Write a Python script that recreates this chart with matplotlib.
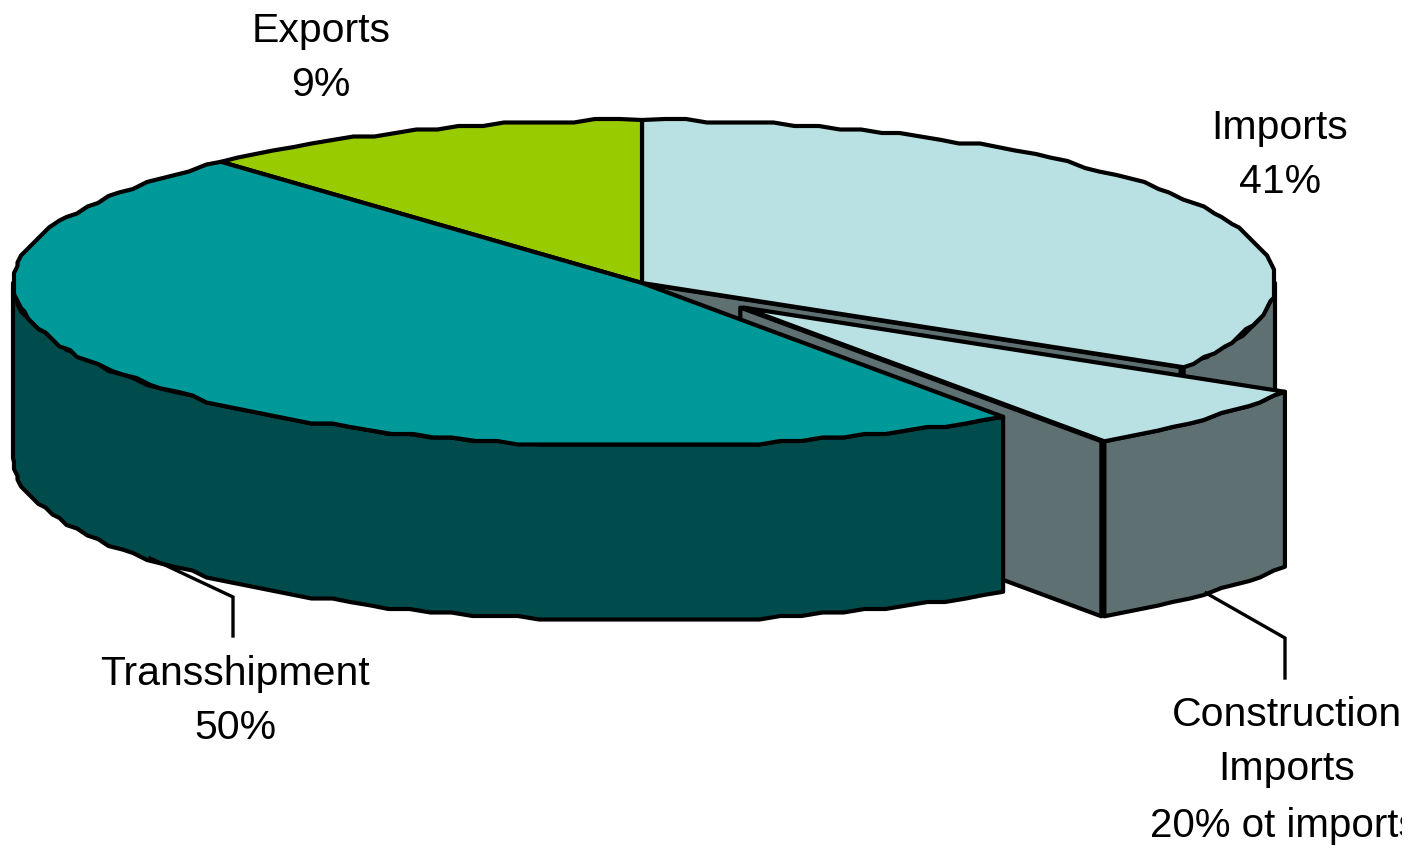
import numpy as np
import matplotlib
matplotlib.use("Agg")
import matplotlib.pyplot as plt
from matplotlib.patches import Polygon, Rectangle

# shares of total port traffic, in percent
imports_total = 41
construction_of_imports = 20
transshipment = 50
exports = 9

construction = imports_total * construction_of_imports / 100
other_imports = imports_total - construction

# pie geometry in pixels
cx, cy = 642, 283
rx, ry = 631, 163
depth = 175
explode = 0.22
grid = 3.5

light_blue = "#B9E0E3"
green = "#99CC00"
teal = "#009999"
dark_teal = "#004C4C"
grey = "#5F7073"
lw = 3.0


def view_angle(t):
    # slices look a bit skewed in the tilted view, angles are degrees from 12 o'clock
    r = np.radians(t)
    return t + 11.7 * np.sin(r) - 3.2 * (1 - np.cos(r)) + 3.1 * np.sin(2 * r)


def rim(t1, t2, dx=0, dy=0):
    # rim of the disc, coarse steps give the stepped outline
    n = max(2, int(abs(t2 - t1) / 2) + 1)
    t = np.radians(np.linspace(t1, t2, n))
    x = cx + rx * np.sin(t) + 2 * np.sin(t) ** 2
    y = cy - ry * np.cos(t)
    x[1:-1] = np.round(x[1:-1] / grid) * grid
    y[1:-1] = np.round(y[1:-1] / grid) * grid
    return np.column_stack([x + dx, y + dy])


def shape(ax, pts, color):
    ax.add_patch(Polygon(pts, closed=True, facecolor=color, edgecolor="black",
                         linewidth=lw, joinstyle="round"))


def top(ax, t1, t2, color, dx=0, dy=0):
    shape(ax, np.vstack([[[cx + dx, cy + dy]], rim(t1, t2, dx, dy)]), color)


def wall(ax, t1, t2, color, dx=0, dy=0):
    arc = rim(t1, t2, dx, dy)
    low = arc[::-1] + [0, depth]
    shape(ax, np.vstack([arc, low]), color)


def cut(ax, t, color, dx=0, dy=0):
    edge = rim(t, t, dx, dy)[0]
    apex = [cx + dx, cy + dy]
    shape(ax, [apex, edge, edge + [0, depth], [apex[0], apex[1] + depth]], color)


fig = plt.figure(figsize=(14.17, 8.5), dpi=100)
ax = fig.add_axes([0, 0, 1, 1])
ax.set_xlim(0, 1417)
ax.set_ylim(850, 0)
ax.axis("off")

# slice boundaries, clockwise from the top
cum = np.cumsum([0, other_imports, construction, transshipment, exports]) * 3.6
a0, a1, a2, a3, a4 = [view_angle(c) for c in cum]

mid = np.radians((a1 + a2) / 2)
ox = explode * rx * np.sin(mid)
oy = -explode * ry * np.cos(mid)

# back to front: the pie behind the pulled out slice
wall(ax, 90, a1, grey)
cut(ax, a1, grey, -3)

# pulled out construction slice
cut(ax, a2, grey, ox - 3, oy)
wall(ax, a1, a2, grey, ox, oy)
top(ax, a1, a2, light_blue, ox, oy)

# rest of the pie
wall(ax, a2, 270, dark_teal)
top(ax, a0, a1, light_blue)
top(ax, a3, a4, green)
top(ax, a2, a3, teal)

# leader lines
ax.plot([150, 233, 233], [558, 597, 636], color="black", lw=2.4, solid_joinstyle="miter")
ax.plot([1206, 1285, 1285], [593, 638, 678], color="black", lw=2.4, solid_joinstyle="miter")

labels = [
    ("Exports\n9%", 321, 58, 29.5),
    ("Imports\n41%", 1280, 155, 29.5),
    ("Transshipment\n50%", 235, 701, 29.5),
    ("Construction\nImports", 1287, 742, 29.5),
    ("20% ot imports", 1284, 826, 29),
]
clip = Rectangle((0, 0), 1402, 850, transform=ax.transData)
for text, x, y, size in labels:
    t = ax.text(x, y, text, ha="center", va="center", family="Liberation Sans",
                fontsize=size, linespacing=1.56, color="black")
    t.set_clip_path(clip)
    t.set_clip_on(True)

fig.savefig("out.png", dpi=100)
